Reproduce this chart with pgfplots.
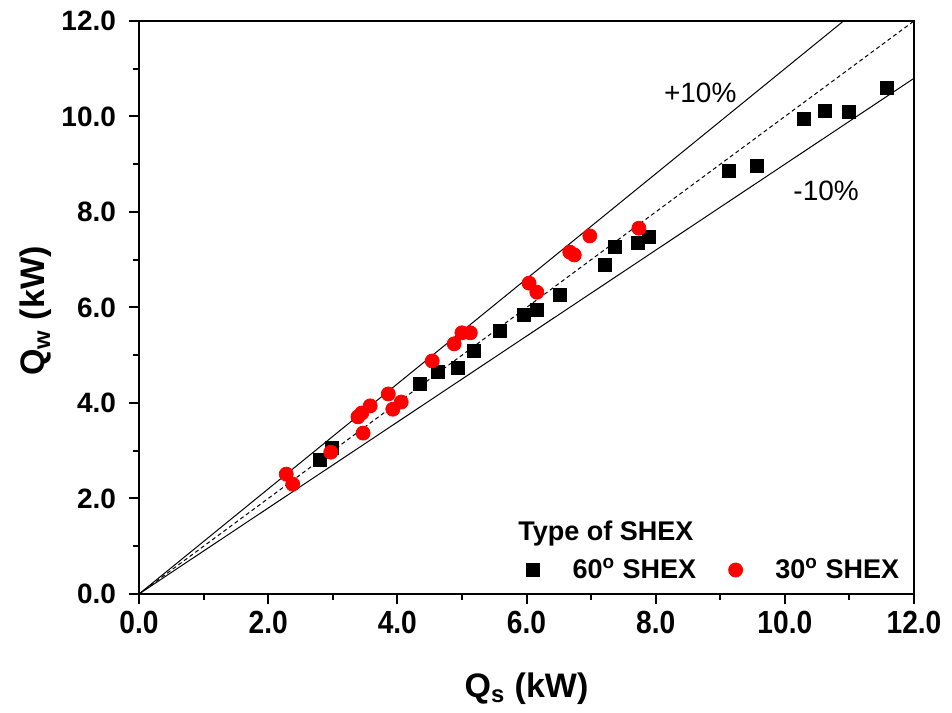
\documentclass[border=0pt]{standalone}
\usepackage{pgfplots}
\pgfplotsset{compat=1.18}
\usepackage{pgfplotstable}
\usepackage{fontspec}
\setmainfont{Liberation Sans}
\newfontfamily\narrowsans[FakeStretch=0.88]{Liberation Sans}

% Q_s, Q_w for the 60 degree heat exchanger
\pgfplotstableread{
qs    qw
2.80  2.81
2.99  3.06
4.35  4.40
4.63  4.65
4.94  4.73
5.19  5.09
5.59  5.51
5.96  5.84
6.16  5.95
6.52  6.26
7.22  6.89
7.37  7.27
7.73  7.35
7.90  7.48
9.14  8.86
9.57  8.96
10.30 9.95
10.62 10.12
10.99 10.09
11.58 10.60
}\sixtydeg

% Q_s, Q_w for the 30 degree heat exchanger
\pgfplotstableread{
qs    qw
2.28  2.51
2.38  2.30
2.97  2.97
3.39  3.71
3.45  3.79
3.58  3.94
3.47  3.37
3.86  4.19
3.93  3.87
4.06  4.02
4.54  4.88
4.88  5.24
5.00  5.47
5.13  5.47
6.04  6.51
6.16  6.32
6.67  7.16
6.74  7.10
6.98  7.50
7.74  7.66
}\thirtydeg

\begin{document}
\begin{tikzpicture}
\begin{axis}[
  name=ax,
  scale only axis,
  width=387.5pt, height=286.5pt,
  xmin=0, xmax=12, ymin=0, ymax=12,
  xtick={0,2,...,12}, ytick={0,2,...,12},
  minor x tick num=1, minor y tick num=1,
  xtick pos=left, ytick pos=left,
  tick align=outside,
  major tick length=5pt, minor tick length=3pt,
  every tick/.style={black, line width=1pt},
  axis line style={line width=1pt},
  /pgf/number format/fixed,
  /pgf/number format/fixed zerofill,
  /pgf/number format/precision=1,
  /pgf/number format/assume math mode=true,
  xticklabel style={font=\narrowsans\fontsize{16}{18}\selectfont\bfseries},
  yticklabel style={font=\fontsize{14}{16}\selectfont\bfseries, xshift=-3pt},
  xlabel={Q\textsubscript{s} (kW)},
  ylabel={Q\textsubscript{w} (kW)},
  label style={font=\fontsize{17}{19}\selectfont\bfseries},
  xlabel style={at={(axis description cs:0.5,-0.1798)}, anchor=base},
  ylabel style={at={(axis description cs:-0.1213,0.494)}, anchor=base},
  legend style={draw=none, fill=none, inner sep=0pt,
    at={(axis cs:5.869,0.503)}, anchor=west,
    font=\fontsize{13.5}{16}\selectfont\bfseries,
    /tikz/every even column/.append style={column sep=10.5pt}},
  legend columns=2,
  legend image code/.code={%
    \path (0pt,0pt) (24.7pt,0pt);
    \draw[mark repeat=2,mark phase=2] plot coordinates {(0pt,0pt) (7pt,0pt) (14pt,0pt)};},
]
% parity line and +/-10 % bounds
\addplot[black, line width=0.5pt, dash pattern=on 2pt off 1.5pt, forget plot] coordinates {(0,0) (12,12)};
\addplot[black, line width=0.5pt, forget plot] coordinates {(0,0) (12,13.2)};
\addplot[black, line width=0.5pt, forget plot] coordinates {(0,0) (12,10.8)};

\addplot[only marks, mark=square*, mark size=3.3pt, black] table[x=qs, y=qw] {\sixtydeg};
\addlegendentry{60\textsuperscript{o} SHEX}
\addplot[only marks, mark=*, mark size=3.5pt, color=red, fill=red] table[x=qs, y=qw] {\thirtydeg};
\addlegendentry{30\textsuperscript{o} SHEX}

\node[font=\fontsize{14}{16}\selectfont] at (axis cs:8.69,10.49) {+10\%};
\node[font=\fontsize{14}{16}\selectfont] at (axis cs:10.64,8.44) {-10\%};
\node[anchor=base west, inner sep=0pt, font=\fontsize{13.5}{16}\selectfont\bfseries]
  at (axis cs:5.869,1.13) {Type of SHEX};
\end{axis}
\pgfresetboundingbox
\path[use as bounding box] ([shift={(-69.5pt,-59pt)}]ax.south west)
  rectangle ([shift={(19pt,10.5pt)}]ax.north east);
\end{tikzpicture}
\end{document}
